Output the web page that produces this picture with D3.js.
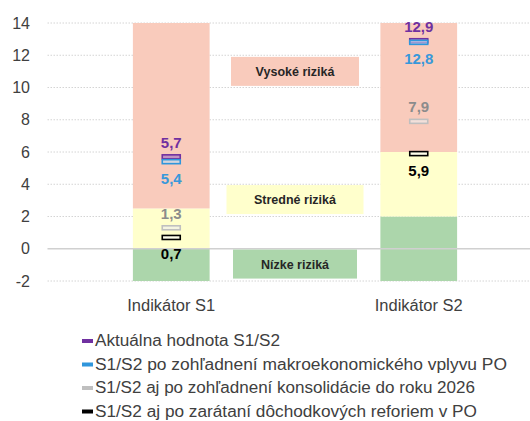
<!DOCTYPE html>
<html>
<head>
<meta charset="utf-8">
<script src="https://cdn.jsdelivr.net/npm/d3@7"></script>
<style>
  html, body { margin: 0; padding: 0; background: #fff; }
  svg { display: block; font-family: "Liberation Sans", Arial, sans-serif; }
</style>
</head>
<body>
<svg id="chart" width="530" height="421"></svg>
<script>
// Categories and risk-zone boundaries for each indicator
const categories = ["Indikátor S1", "Indikátor S2"];
const axisMin = [-2, -2];
const lowRiskTop = [0, 2];
const midRiskTop = [2.5, 6];
const highRiskTop = [14, 14];

// Indicator values per scenario
const aktualna = [5.7, 12.9];
const makro = [5.4, 12.8];
const konsolidacia = [1.3, 7.9];
const reformy = [0.7, 5.9];

const yTicks = [-2, 0, 2, 4, 6, 8, 10, 12, 14];
const riskLabels = ["Nízke riziká", "Stredné riziká", "Vysoké riziká"];
const seriesNames = [
  "Aktuálna hodnota S1/S2",
  "S1/S2 po zohľadnení makroekonomického vplyvu PO",
  "S1/S2 aj po zohľadnení konsolidácie do roku 2026",
  "S1/S2 aj po zarátaní dôchodkových reforiem v PO"
];

const svg = d3.select("#chart");
const plot = { left: 47.5, right: 542.5, top: 23, bottom: 281 };

const x = d3.scaleBand()
  .domain(categories)
  .range([plot.left, plot.right])
  .paddingInner(0.69)
  .paddingOuter(0.345);

const y = d3.scaleLinear()
  .domain([-2, 14])
  .range([plot.bottom, plot.top]);

// Gridlines
const grid = svg.append("g");
grid.selectAll("line")
  .data(yTicks.filter(t => t !== 0))
  .join("line")
  .attr("x1", plot.left).attr("x2", 530)
  .attr("y1", d => y(d)).attr("y2", d => y(d))
  .attr("stroke", "#d4d4d4")
  .attr("stroke-width", 1)
  .attr("stroke-dasharray", "1.5,1.5");

// Y axis labels (plain hyphen for negatives)
const yAxis = d3.axisLeft(y).tickValues(yTicks).tickSize(0).tickPadding(0)
  .tickFormat(d => String(d));
const yg = svg.append("g").attr("transform", "translate(30,0)").call(yAxis);
yg.select(".domain").remove();
yg.selectAll("text")
  .attr("font-size", 16)
  .attr("font-family", "Liberation Sans, Arial, sans-serif")
  .attr("fill", "#404040");

// Risk zone bars (stacked)
const zones = [
  { name: "low", from: axisMin, to: lowRiskTop, color: "#acd6ab" },
  { name: "mid", from: lowRiskTop, to: midRiskTop, color: "#ffffcc" },
  { name: "high", from: midRiskTop, to: highRiskTop, color: "#f9cbbc" }
];
zones.forEach(z => {
  svg.append("g").selectAll("rect")
    .data(categories)
    .join("rect")
    .attr("x", d => x(d))
    .attr("width", x.bandwidth())
    .attr("y", (d, i) => y(z.to[i]))
    .attr("height", (d, i) => y(z.from[i]) - y(z.to[i]))
    .attr("fill", z.color);
});

// Zero line
svg.append("line")
  .attr("x1", plot.left).attr("x2", 530)
  .attr("y1", y(0)).attr("y2", y(0))
  .attr("stroke", "#d0d0d0").attr("stroke-width", 1.5);

// Risk zone annotation boxes, placed between the two bars
const riskBoxes = [
  { text: riskLabels[2], value: 11.0, w: 128, fill: "#f9cbbc" },
  { text: riskLabels[1], value: 3.05, w: 137, fill: "#ffffcc" },
  { text: riskLabels[0], value: -0.95, w: 124, fill: "#acd6ab" }
];
const midX = x(categories[1]) - (x.step() - x.bandwidth()) / 2;
const boxG = svg.append("g");
riskBoxes.forEach(b => {
  const cy = y(b.value);
  boxG.append("rect")
    .attr("x", midX - b.w / 2).attr("width", b.w)
    .attr("y", cy - 14.5).attr("height", 29)
    .attr("fill", b.fill);
  boxG.append("text")
    .attr("x", midX).attr("y", cy + 4.5)
    .attr("text-anchor", "middle")
    .attr("font-size", 12.5).attr("font-weight", "bold")
    .attr("fill", "#262626")
    .text(b.text);
});

// Scenario markers with value labels
const series = [
  { values: aktualna, stroke: "#7030a0", fill: "#9b6cc4", label: "#7030a0", above: true },
  { values: makro, stroke: "#2f96dc", fill: "#bcdcf3", label: "#3898da", above: false },
  { values: konsolidacia, stroke: "#bfbfbf", fill: "#eeeeee", label: "#8c8c8c", above: true },
  { values: reformy, stroke: "#000000", fill: "#ffffff", label: "#000000", above: false }
];
const fmt = v => d3.format(".1f")(v).replace(".", ",");
const cx = d => x(d) + x.bandwidth() / 2;

series.forEach(s => {
  const g = svg.append("g");
  g.selectAll("rect")
    .data(categories)
    .join("rect")
    .attr("x", d => cx(d) - 9)
    .attr("width", 18)
    .attr("y", (d, i) => y(s.values[i]) - 2)
    .attr("height", 4)
    .attr("fill", s.fill)
    .attr("fill-opacity", 0.6)
    .attr("stroke", s.stroke)
    .attr("stroke-width", 1.6);
});
series.forEach(s => {
  svg.append("g").selectAll("text")
    .data(categories)
    .join("text")
    .attr("x", d => cx(d))
    .attr("y", (d, i) => y(s.values[i]) + (s.above ? -9 : 22))
    .attr("text-anchor", "middle")
    .attr("font-size", 15).attr("font-weight", "bold")
    .attr("fill", s.label)
    .text((d, i) => fmt(s.values[i]));
});

// Category labels
svg.append("g").selectAll("text")
  .data(categories)
  .join("text")
  .attr("x", d => cx(d))
  .attr("y", 311)
  .attr("text-anchor", "middle")
  .attr("font-size", 16)
  .attr("textLength", 88)
  .attr("lengthAdjust", "spacingAndGlyphs")
  .attr("fill", "#404040")
  .text(d => d);

// Legend
const legend = svg.append("g");
const legendColors = ["#7030a0", "#2f96dc", "#bfbfbf", "#000000"];
const legendWidths = [185, 412, 380, 382];
seriesNames.forEach((name, i) => {
  const by = 346 + i * 23.5;
  legend.append("rect")
    .attr("x", 82).attr("y", by - 7).attr("width", 11).attr("height", 4)
    .attr("fill", legendColors[i]);
  legend.append("text")
    .attr("x", 95).attr("y", by)
    .attr("font-size", 16)
    .attr("textLength", legendWidths[i])
    .attr("lengthAdjust", "spacingAndGlyphs")
    .attr("fill", "#404040")
    .text(name);
});
</script>
</body>
</html>
